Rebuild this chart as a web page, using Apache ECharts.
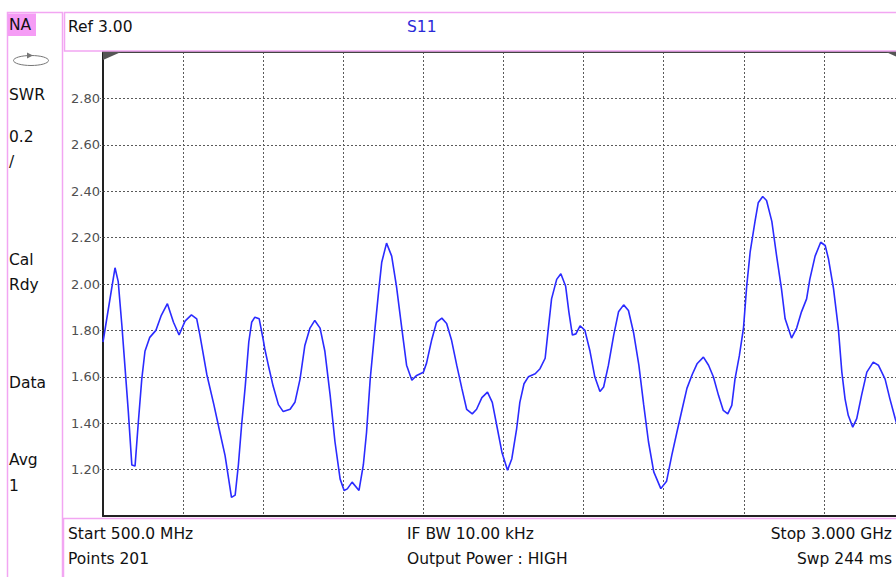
<!DOCTYPE html>
<html>
<head>
<meta charset="utf-8">
<script src="https://cdn.jsdelivr.net/npm/echarts@6/dist/echarts.min.js"></script>
<style>
html,body{margin:0;padding:0;background:#fff;}
#c{width:896px;height:577px;}
</style>
</head>
<body>
<div id="c"></div>
<script>
// ---- data ----
var freqMHz = [500,537.5,547.5,559,569,579,590,600,610,621,631,646,665,682,701,720,737.5,756,776,792.5,802.5,824,846,865,881,901,912.5,922.5,932.5,944,955,964,974,987.5,1000,1005,1016,1031,1047.5,1062.5,1084,1099,1115,1130,1146,1161,1177.5,1192.5,1209,1224,1240,1252.5,1262.5,1277.5,1299,1312.5,1322.5,1334,1349,1360,1370,1385,1401,1416,1432.5,1447.5,1464,1479,1500,1510,1526,1541,1557.5,1572.5,1587.5,1604,1620,1635,1652.5,1666,1682.5,1700,1715,1729,1745,1762.5,1776,1791,1801,1814,1827.5,1849,1864,1880,1890,1900,1916,1929,1944,1954,1965,1976,1989,2004,2020,2035,2051,2062.5,2077.5,2094,2109,2125,2140,2156,2172.5,2187.5,2202.5,2219,2241,2259,2275,2291,2307.5,2322.5,2339,2354,2374,2390,2405,2421,2436,2450,2462.5,2472.5,2486,2499,2509,2520,2535,2545,2559,2571,2587.5,2602.5,2617.5,2629,2649,2665,2680,2696,2706,2722.5,2740,2754,2764,2780,2795,2806,2816,2826,2840,2852.5,2867.5,2884,2904,2920,2941,2956,2972.5,2985];
var swr = [1.75,2.07,2.01,1.82,1.635,1.45,1.22,1.215,1.40,1.59,1.71,1.77,1.80,1.865,1.915,1.835,1.78,1.84,1.867,1.85,1.78,1.61,1.48,1.36,1.26,1.08,1.09,1.22,1.39,1.56,1.75,1.835,1.857,1.85,1.76,1.72,1.65,1.56,1.48,1.45,1.46,1.49,1.59,1.735,1.81,1.843,1.81,1.71,1.52,1.32,1.16,1.11,1.117,1.146,1.11,1.22,1.36,1.59,1.81,1.965,2.094,2.176,2.12,1.99,1.81,1.65,1.585,1.606,1.62,1.66,1.76,1.835,1.853,1.83,1.76,1.65,1.55,1.46,1.44,1.46,1.51,1.534,1.49,1.39,1.275,1.197,1.247,1.376,1.49,1.57,1.60,1.613,1.635,1.68,1.81,1.936,2.02,2.044,1.99,1.88,1.78,1.785,1.82,1.80,1.71,1.60,1.537,1.556,1.65,1.78,1.88,1.91,1.886,1.79,1.65,1.48,1.32,1.19,1.118,1.15,1.26,1.36,1.46,1.55,1.61,1.656,1.685,1.65,1.60,1.52,1.455,1.44,1.477,1.59,1.69,1.81,1.99,2.14,2.27,2.35,2.377,2.36,2.27,2.12,1.98,1.85,1.767,1.81,1.88,1.936,2.02,2.12,2.18,2.166,2.11,1.98,1.81,1.62,1.505,1.434,1.383,1.42,1.52,1.62,1.663,1.65,1.59,1.505,1.42,1.36];
var yTicks = ['1.20','1.40','1.60','1.80','2.00','2.20','2.40','2.60','2.80'];
var sidePanel = [['NA',25],['SWR',95],['0.2',137],['/',162],['Cal',260],['Rdy',285],['Data',383],['Avg',460],['1',486]];
var headerTexts = ['Ref 3.00','S11'];
var footerRow1 = ['Start 500.0 MHz','IF BW 10.00 kHz','Stop 3.000 GHz'];
var footerRow2 = ['Points 201','Output Power : HIGH','Swp 244 ms'];

// ---- layout ----
var GL = 103, GT = 52, GW = 801, GH = 464;
var PINK = '#f2a6f2';
var FONT = '15.5px "DejaVu Sans", sans-serif';

var pts = freqMHz.map(function(f,i){ return [f, swr[i]]; });

function txt(t, x, y, align, color, font){
  return {type:'text', silent:true, z:10,
    style:{text:t, x:x, y:y, fill:color||'#111', font:font||FONT,
      textAlign:align||'left', align:align||'left',
      textVerticalAlign:'middle', verticalAlign:'middle'}};
}

var g = [];
// frames
g.push({type:'rect', silent:true, z:1, shape:{x:7.5,y:12.5,width:55,height:620}, style:{fill:'none',stroke:PINK,lineWidth:1.5}});
g.push({type:'rect', silent:true, z:1, shape:{x:64.5,y:12.5,width:900,height:38.5}, style:{fill:'none',stroke:PINK,lineWidth:1.5}});
g.push({type:'rect', silent:true, z:1, shape:{x:63.5,y:518.5,width:900,height:100}, style:{fill:'none',stroke:PINK,lineWidth:1.5}});
// NA highlight
g.push({type:'rect', silent:true, z:2, shape:{x:8,y:13.5,width:28,height:22.5}, style:{fill:'#f59cf5'}});
// side texts
sidePanel.forEach(function(s){ g.push(txt(s[0], 9, s[1], 'left')); });
// loop icon
g.push({type:'ellipse', silent:true, z:3, shape:{cx:31,cy:60.5,rx:17.5,ry:5}, style:{fill:'none',stroke:'#777',lineWidth:1}});
g.push({type:'polygon', silent:true, z:3, shape:{points:[[27,52.5],[33,55.5],[27,58.5]]}, style:{fill:'#777'}});
// header
g.push(txt(headerTexts[0], 68, 27, 'left'));
g.push(txt(headerTexts[1], 407, 27, 'left', '#2a2ad8'));
// footer
g.push(txt(footerRow1[0], 68, 534, 'left'));
g.push(txt(footerRow1[1], 407, 534, 'left'));
g.push(txt(footerRow1[2], 892, 534, 'right'));
g.push(txt(footerRow2[0], 68, 559, 'left'));
g.push(txt(footerRow2[1], 407, 559, 'left'));
g.push(txt(footerRow2[2], 892, 559, 'right'));
// reference-level wedges at top corners
g.push({type:'polygon', silent:true, z:20, shape:{points:[[GL,GT],[GL+18,GT],[GL,GT+8]]}, style:{fill:'#555'}});
g.push({type:'polygon', silent:true, z:20, shape:{points:[[GL+GW-18,GT],[GL+GW,GT],[GL+GW,GT+8]]}, style:{fill:'#555'}});

var gridDash = {color:'#5a5a5a', width:1, type:[2,2]};

var chart = echarts.init(document.getElementById('c'), null, {renderer:'svg'});
chart.setOption({
  animation:false,
  backgroundColor:'#ffffff',
  grid:{left:GL, top:GT, width:GW, height:GH, containLabel:false, outerBoundsMode:'none'},
  xAxis:[{
    type:'value', min:500, max:3000, interval:250,
    axisLine:{show:true, onZero:false, lineStyle:{color:'#222', width:2}},
    axisTick:{show:false}, axisLabel:{show:false},
    splitLine:{show:true, lineStyle:gridDash}
  },{
    type:'value', position:'top', min:500, max:3000,
    axisLine:{show:true, onZero:false, lineStyle:{color:'#444', width:2}},
    axisTick:{show:false}, axisLabel:{show:false}, splitLine:{show:false}
  }],
  yAxis:{
    type:'value', min:1, max:3, interval:0.2,
    axisLine:{show:true, onZero:false, lineStyle:{color:'#222', width:2}},
    axisTick:{show:true, length:3, lineStyle:{color:'#5a5a5a', type:[1,1]}},
    axisLabel:{show:true, margin:3, color:'#505050', fontSize:13, fontFamily:'DejaVu Sans',
      showMinLabel:false, showMaxLabel:false,
      formatter:function(v){ var s=v.toFixed(2); return yTicks.indexOf(s)>=0 ? s : ''; }},
    splitLine:{show:true, lineStyle:gridDash}
  },
  series:[{
    type:'line', data:pts, showSymbol:false, symbol:'none', smooth:false,
    lineStyle:{color:'#2b2bff', width:1.6}, clip:true, z:5
  }],
  graphic:{elements:g}
});
</script>
</body>
</html>
